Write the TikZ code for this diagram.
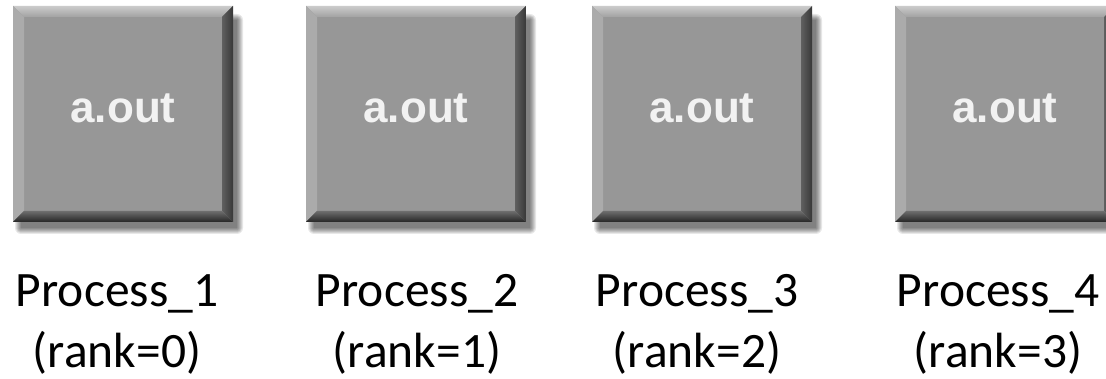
\documentclass[tikz,border=0pt]{standalone}
\usepackage{fontspec}
\setmainfont{Carlito}
\newfontfamily\labelsans{Liberation Sans}
\definecolor{facegray}{HTML}{979797}
\definecolor{toplight}{HTML}{CBCBCB}
\definecolor{topmid}{HTML}{A2A2A2}
\definecolor{leftgray}{HTML}{ABABAB}
\definecolor{rightin}{HTML}{606060}
\definecolor{rightout}{HTML}{383838}
\definecolor{bottomin}{HTML}{6E6E6E}
\definecolor{bottomout}{HTML}{252525}
\definecolor{outwhite}{HTML}{F2F2F2}

\tikzset{
  facebox/.style={fill=facegray, draw=none, minimum width=220pt,
    minimum height=216pt, inner sep=0pt, outer sep=0pt},
  outtext/.style={font=\labelsans\bfseries\fontsize{44}{50}\selectfont,
    text=outwhite, inner sep=0pt},
  caption/.style={font=\fontsize{49.5}{61}\selectfont, align=center,
    inner sep=0pt, text=black},
  shadowlayer/.style={fill=black, fill opacity=0.09},
}
\newcommand\bw{11}
% #1 index, #2 left edge of the box, #3 centre of the caption, #4 rank
\newcommand\procbox[4]{%
  % soft drop shadow, built from growing translucent layers
  \foreach \k in {0,...,6}{
    \fill[shadowlayer, rounded corners=\k pt]
      (#2+8-\k,151-\k) rectangle (#2+224+\k,359+\k);
  }
  \node[facebox, anchor=north west] (box#1) at (#2,373) {};
  % bevelled rim
  \shade[top color=toplight, bottom color=topmid]
    (box#1.north west) -- (box#1.north east)
    -- ([shift={(-\bw,-\bw)}]box#1.north east)
    -- ([shift={(\bw,-\bw)}]box#1.north west) -- cycle;
  \fill[leftgray]
    (box#1.north west) -- ([shift={(\bw,-\bw)}]box#1.north west)
    -- ([shift={(\bw,\bw)}]box#1.south west) -- (box#1.south west) -- cycle;
  \shade[left color=rightin, right color=rightout]
    (box#1.north east) -- (box#1.south east)
    -- ([shift={(-\bw,\bw)}]box#1.south east)
    -- ([shift={(-\bw,-\bw)}]box#1.north east) -- cycle;
  \shade[top color=bottomin, bottom color=bottomout]
    (box#1.south west) -- (box#1.south east)
    -- ([shift={(-\bw,\bw)}]box#1.south east)
    -- ([shift={(\bw,\bw)}]box#1.south west) -- cycle;
  \node[outtext, anchor=base] (exe#1) at ([yshift=-9pt]box#1.center) {a.out};
  % the base anchor sits on the baseline of the second line
  \node[caption, anchor=base] (proc#1) at (#3,11) {Process\_#1\\(rank=#4)};
}

\begin{document}
\begin{tikzpicture}[x=1pt,y=1pt]
  \useasboundingbox (0,0) rectangle (1106,379);
  \clip (0,0) rectangle (1106,379);
  \fill[white] (0,0) rectangle (1106,379);
  \procbox{1}{13}{117}{0}
  \procbox{2}{306}{417}{1}
  \procbox{3}{592}{697}{2}
  \procbox{4}{895}{998}{3}
\end{tikzpicture}
\end{document}
